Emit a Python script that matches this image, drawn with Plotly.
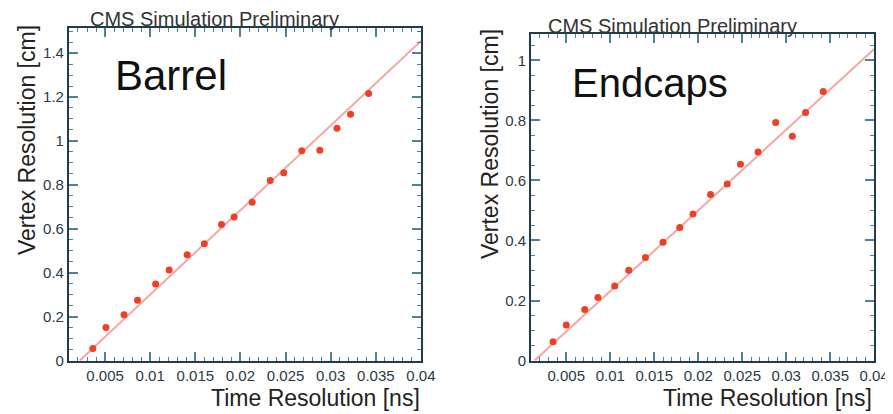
import plotly.graph_objects as go

# ---------------- data ----------------
barrel_time = [0.00365, 0.0051, 0.0071, 0.0086, 0.0106, 0.0121, 0.0141, 0.0160, 0.0179,
               0.0193, 0.0213, 0.0233, 0.0248, 0.0268, 0.0288, 0.0307, 0.0322, 0.0342]
barrel_vertex = [0.055, 0.150, 0.208, 0.275, 0.349, 0.412, 0.482, 0.532, 0.620,
                 0.654, 0.721, 0.820, 0.855, 0.955, 0.958, 1.058, 1.122, 1.216]
barrel_fit_x = [0.0022, 0.0400]
barrel_fit_y = [0.0, 1.455]

endcap_time = [0.0035, 0.0050, 0.0071, 0.0086, 0.0105, 0.0121, 0.0140, 0.0160, 0.0179,
               0.0194, 0.0214, 0.0233, 0.0248, 0.0268, 0.0288, 0.0307, 0.0322, 0.0342]
endcap_vertex = [0.063, 0.118, 0.170, 0.210, 0.248, 0.301, 0.343, 0.394, 0.443,
                 0.488, 0.553, 0.588, 0.654, 0.695, 0.793, 0.747, 0.826, 0.896]
endcap_fit_x = [0.0014, 0.0400]
endcap_fit_y = [0.0, 1.038]

x_tick_vals = [0.005, 0.01, 0.015, 0.02, 0.025, 0.03, 0.035, 0.04]
x_tick_text = ["0.005", "0.01", "0.015", "0.02", "0.025", "0.03", "0.035", "0.04"]
barrel_y_tick_vals = [0, 0.2, 0.4, 0.6, 0.8, 1.0, 1.2, 1.4]
barrel_y_tick_text = ["0", "0.2", "0.4", "0.6", "0.8", "1", "1.2", "1.4"]
endcap_y_tick_vals = [0, 0.2, 0.4, 0.6, 0.8, 1.0]
endcap_y_tick_text = ["0", "0.2", "0.4", "0.6", "0.8", "1"]

panel_labels = ["Barrel", "Endcaps"]
header = "CMS Simulation Preliminary"
x_title = "Time Resolution [ns]"
y_title = "Vertex Resolution [cm]"

# ---------------- styling ----------------
W, H = 893, 414
FONT = "Liberation Sans, Arial, Helvetica, sans-serif"
FRAME = "#213d4c"
TICK = "#4f8197"
POINT = "#ee3f28"
LINE = "#f5a7a2"
TXT = "#222222"


def pxx(x):
    return x / W


def pxy(y):
    return 1 - y / H


fig = go.Figure()

fig.add_trace(go.Scatter(x=barrel_fit_x, y=barrel_fit_y, mode="lines",
                         line=dict(color=LINE, width=2), xaxis="x", yaxis="y",
                         showlegend=False, hoverinfo="skip"))
fig.add_trace(go.Scatter(x=barrel_time, y=barrel_vertex, mode="markers",
                         marker=dict(color=POINT, size=7), xaxis="x", yaxis="y",
                         showlegend=False))
fig.add_trace(go.Scatter(x=endcap_fit_x, y=endcap_fit_y, mode="lines",
                         line=dict(color=LINE, width=2), xaxis="x2", yaxis="y2",
                         showlegend=False, hoverinfo="skip"))
fig.add_trace(go.Scatter(x=endcap_time, y=endcap_vertex, mode="markers",
                         marker=dict(color=POINT, size=7), xaxis="x2", yaxis="y2",
                         showlegend=False))


def xaxis(domain, anchor):
    return dict(domain=domain, anchor=anchor, range=[0.001, 0.04],
                tickmode="array", tickvals=x_tick_vals, ticktext=x_tick_text,
                ticks="inside", ticklen=9, tickwidth=1.5, tickcolor=TICK,
                minor=dict(tickmode="linear", tick0=0, dtick=0.001, ticks="inside",
                           ticklen=4, tickwidth=1.2, tickcolor=TICK, showgrid=False),
                showline=True, linecolor=FRAME, linewidth=2, mirror="allticks",
                showgrid=False, zeroline=False,
                tickfont=dict(family=FONT, size=15, color="#2b3a44"))


def yaxis(domain, anchor, rng, vals, text):
    return dict(domain=domain, anchor=anchor, range=rng,
                tickmode="array", tickvals=vals, ticktext=text,
                ticks="inside", ticklen=9, tickwidth=1.5, tickcolor=TICK,
                minor=dict(tickmode="linear", tick0=0, dtick=0.05, ticks="inside",
                           ticklen=4, tickwidth=1.2, tickcolor=TICK, showgrid=False),
                showline=True, linecolor=FRAME, linewidth=2, mirror="allticks",
                showgrid=False, zeroline=False,
                tickfont=dict(family=FONT, size=15, color="#2b3a44"))


fig.update_layout(
    width=W, height=H, autosize=False,
    margin=dict(l=0, r=0, t=0, b=0),
    paper_bgcolor="white", plot_bgcolor="white",
    xaxis=xaxis([pxx(62), pxx(420)], "y"),
    yaxis=yaxis([pxy(359.5), pxy(20)], "x", [0, 1.516],
                barrel_y_tick_vals, barrel_y_tick_text),
    xaxis2=xaxis([pxx(532), pxx(881)], "y2"),
    yaxis2=yaxis([pxy(359.5), pxy(26.7)], "x2", [0, 1.087],
                 endcap_y_tick_vals, endcap_y_tick_text),
)

ann = []
# headers
ann.append(dict(text=header, x=pxx(210), y=pxy(11), xanchor="center", yanchor="middle",
                font=dict(family=FONT, size=20, color="#333333")))
ann.append(dict(text=header, x=pxx(676), y=pxy(18), xanchor="center", yanchor="middle",
                font=dict(family=FONT, size=20, color="#333333")))
# panel labels
ann.append(dict(text=panel_labels[0], x=pxx(107), y=pxy(69), xanchor="left", yanchor="middle",
                font=dict(family=FONT, size=42, color="#111111")))
ann.append(dict(text=panel_labels[1], x=pxx(572), y=pxy(76), xanchor="left", yanchor="middle",
                font=dict(family=FONT, size=40, color="#111111")))
# axis titles
ann.append(dict(text=x_title, x=pxx(421), y=pxy(398), xanchor="right", yanchor="middle",
                font=dict(family=FONT, size=23, color=TXT)))
ann.append(dict(text=x_title, x=pxx(881), y=pxy(398), xanchor="right", yanchor="middle",
                font=dict(family=FONT, size=23, color=TXT)))
ann.append(dict(text=y_title, x=pxx(20), y=pxy(135), xanchor="center", yanchor="middle",
                textangle=-90, font=dict(family=FONT, size=23, color=TXT)))
ann.append(dict(text=y_title, x=pxx(491), y=pxy(139), xanchor="center", yanchor="middle",
                textangle=-90, font=dict(family=FONT, size=23, color=TXT)))

for a in ann:
    a.update(xref="paper", yref="paper", showarrow=False)
fig.update_layout(annotations=ann)

fig.write_html("out.html")
